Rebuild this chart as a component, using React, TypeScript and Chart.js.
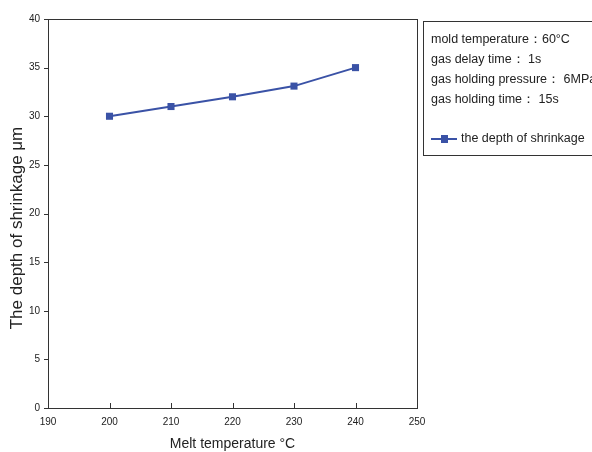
import React, { useEffect, useRef } from "react";
import { Chart, registerables } from "chart.js";

Chart.register(...registerables);

const meltTemps = [200, 210, 220, 230, 240];
const shrinkDepth = [30, 31, 32, 33.1, 35];
const xTicks = [190, 200, 210, 220, 230, 240, 250];
const yTicks = [0, 5, 10, 15, 20, 25, 30, 35, 40];
const seriesName = "the depth of shrinkage";
const infoLines = [
  "mold temperature：60°C",
  "gas delay time： 1s",
  "gas holding pressure： 6MPa",
  "gas holding time： 15s",
];
const xTitle = "Melt temperature °C";
const yTitle = "The depth of shrinkage μm";

const LINE = "#3a52a6";
const TEXT = "#222";

const framePlugin = {
  id: "frame",
  afterDraw(chart: any) {
    const { ctx, chartArea: a, scales } = chart;
    ctx.save();
    ctx.strokeStyle = "#333";
    ctx.lineWidth = 1;
    ctx.strokeRect(Math.round(a.left) + 0.5, Math.round(a.top) + 0.5, Math.round(a.right - a.left), Math.round(a.bottom - a.top));
    for (const v of xTicks) {
      const x = Math.round(scales.x.getPixelForValue(v)) + 0.5;
      ctx.beginPath();
      ctx.moveTo(x, a.bottom);
      ctx.lineTo(x, a.bottom - 5);
      ctx.stroke();
    }
    for (const v of yTicks) {
      const y = Math.round(scales.y.getPixelForValue(v)) + 0.5;
      ctx.beginPath();
      ctx.moveTo(a.left - 4, y);
      ctx.lineTo(a.left, y);
      ctx.stroke();
    }
    ctx.fillStyle = TEXT;
    ctx.font = "14px 'Liberation Sans', Arial, sans-serif";
    ctx.textAlign = "center";
    ctx.textBaseline = "middle";
    ctx.fillText(xTitle, (a.left + a.right) / 2, 444);
    ctx.save();
    ctx.translate(17, 228);
    ctx.rotate(-Math.PI / 2);
    ctx.font = "17px 'Liberation Sans', Arial, sans-serif";
    ctx.fillText(yTitle, 0, 0);
    ctx.restore();

    ctx.strokeStyle = "#333";
    ctx.strokeRect(423.5, 21.5, 200, 134);
    ctx.font = "12.5px 'Liberation Sans', Arial, sans-serif";
    ctx.textAlign = "left";
    infoLines.forEach((t, i) => ctx.fillText(t, 431, 40 + i * 20));
    ctx.strokeStyle = LINE;
    ctx.lineWidth = 2;
    ctx.beginPath();
    ctx.moveTo(431, 139);
    ctx.lineTo(457, 139);
    ctx.stroke();
    ctx.fillStyle = LINE;
    ctx.fillRect(441, 135, 7, 8);
    ctx.fillStyle = TEXT;
    ctx.fillText(seriesName, 461, 139);
    ctx.restore();
  },
};

export default function App() {
  const ref = useRef<HTMLCanvasElement>(null);
  useEffect(() => {
    const chart = new Chart(ref.current!, {
      type: "line",
      data: {
        datasets: [
          {
            label: seriesName,
            data: meltTemps.map((x, i) => ({ x, y: shrinkDepth[i] })),
            borderColor: LINE,
            backgroundColor: LINE,
            borderWidth: 2,
            pointStyle: "rect",
            pointRadius: 5,
            pointBorderWidth: 0,
            tension: 0,
          },
        ],
      },
      options: {
        animation: false,
        responsive: false,
        layout: { padding: { top: 19, right: 175, left: 0, bottom: 0 } },
        plugins: { legend: { display: false }, tooltip: { enabled: false } },
        scales: {
          x: {
            type: "linear",
            min: 190,
            max: 250,
            afterFit: (s: any) => { s.height = 44; },
            afterBuildTicks: (s: any) => { s.ticks = xTicks.map((v) => ({ value: v })); },
            grid: { display: false, drawTicks: false },
            border: { display: false },
            ticks: { color: TEXT, font: { size: 10, family: "'Liberation Sans', Arial" }, padding: 8, maxRotation: 0 },
          },
          y: {
            min: 0,
            max: 40,
            afterFit: (s: any) => { s.width = 48; },
            afterBuildTicks: (s: any) => { s.ticks = yTicks.map((v) => ({ value: v })); },
            grid: { display: false, drawTicks: false },
            border: { display: false },
            ticks: { color: TEXT, font: { size: 10, family: "'Liberation Sans', Arial" }, padding: 8 },
          },
        },
      },
      plugins: [framePlugin],
    });
    return () => chart.destroy();
  }, []);
  return (
    <div style={{ position: "fixed", left: 0, top: 0, width: 592, height: 452, background: "#fff" }}>
      <canvas ref={ref} width={592} height={452} style={{ width: 592, height: 452 }} />
    </div>
  );
}
